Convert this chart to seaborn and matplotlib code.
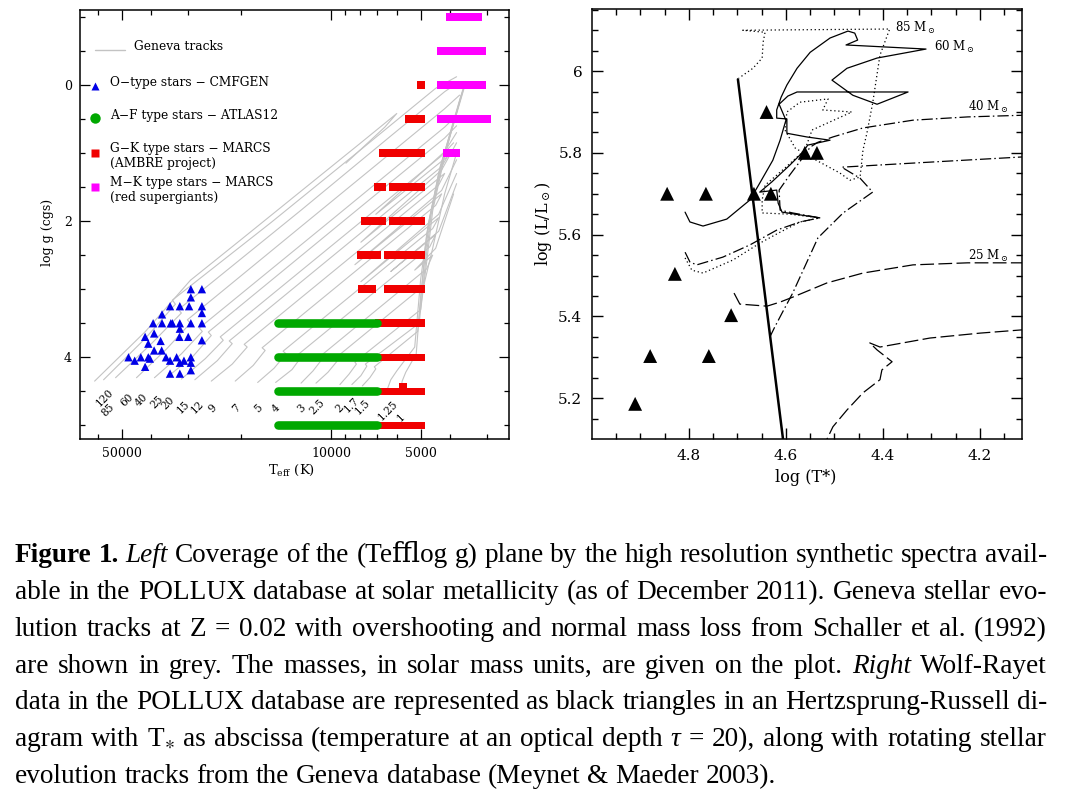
import numpy as np
import matplotlib
matplotlib.use("Agg")
import matplotlib.pyplot as plt
import seaborn as sns

# ======================= LEFT PANEL DATA =======================
# Geneva evolutionary tracks (log Teff, log g) vertices
track_masses = ["120", "85", "60", "40", "25", "20", "15", "12", "9", "7", "5", "4",
                "3", "2.5", "2", "1.7", "1.5", "1.25", "1"]
track_logT = [
    [4.79, 4.62, 4.47, 4.30, 4.10, 3.90, 3.78, 3.82, 3.95],
    [4.76, 4.62, 4.52, 4.53, 4.20, 3.90, 3.65, 3.58],
    [4.72, 4.60, 4.50, 4.51, 4.10, 3.80, 3.62, 3.57],
    [4.65, 4.55, 4.47, 4.48, 4.10, 3.80, 3.62, 3.57],
    [4.59, 4.50, 4.43, 4.44, 4.00, 3.62, 3.58],
    [4.55, 4.46, 4.40, 4.41, 3.95, 3.62, 3.58],
    [4.50, 4.42, 4.36, 4.37, 3.90, 3.63, 3.59],
    [4.455, 4.38, 4.33, 4.34, 3.63, 3.61, 3.85, 3.62, 3.58],
    [4.40, 4.33, 4.28, 4.29, 3.64, 3.62, 3.90, 3.63, 3.58],
    [4.32, 4.26, 4.22, 4.23, 3.65, 3.63, 3.92, 3.63, 3.58],
    [4.245, 4.19, 4.15, 4.16, 3.66, 3.64, 3.90, 3.64, 3.58],
    [4.185, 4.13, 4.10, 4.11, 3.67, 3.65, 3.80, 3.64, 3.58],
    [4.10, 4.06, 4.03, 4.04, 3.68, 3.66, 3.72, 3.65, 3.59],
    [4.05, 4.01, 3.98, 3.99, 3.69, 3.66, 3.62, 3.58],
    [3.97, 3.94, 3.915, 3.92, 3.70, 3.68, 3.66, 3.62, 3.58, 3.555],
    [3.93, 3.90, 3.88, 3.885, 3.705, 3.685, 3.665, 3.625, 3.58, 3.55],
    [3.895, 3.87, 3.85, 3.855, 3.71, 3.69, 3.67, 3.63, 3.585, 3.555],
    [3.81, 3.80, 3.78, 3.72, 3.70, 3.675, 3.635, 3.59, 3.56],
    [3.765, 3.762, 3.75, 3.715, 3.70, 3.68, 3.64, 3.595, 3.565],
]
track_logg = [
    [4.35, 3.62, 2.87, 2.27, 1.56, 0.85, 0.42, 0.62, 1.15],
    [4.33, 3.72, 3.22, 3.16, 2.02, 0.95, 0.05, -0.12],
    [4.30, 3.80, 3.35, 3.30, 1.84, 0.75, 0.10, -0.05],
    [4.30, 3.88, 3.50, 3.45, 2.08, 1.00, 0.35, 0.15],
    [4.30, 3.95, 3.62, 3.57, 1.99, 0.62, 0.45],
    [4.30, 3.98, 3.68, 3.63, 1.97, 0.78, 0.60],
    [4.32, 4.02, 3.75, 3.70, 2.01, 1.04, 0.85],
    [4.33, 4.05, 3.80, 3.76, 1.20, 1.05, 1.90, 0.98, 0.70],
    [4.35, 4.10, 3.85, 3.81, 1.47, 1.30, 2.31, 1.25, 0.85],
    [4.35, 4.12, 3.90, 3.86, 1.77, 1.60, 2.64, 1.55, 1.10],
    [4.37, 4.16, 3.95, 3.91, 2.11, 1.95, 2.89, 1.90, 1.30],
    [4.37, 4.18, 4.00, 3.96, 2.38, 2.20, 2.74, 2.15, 1.45],
    [4.38, 4.20, 4.03, 4.00, 2.70, 2.50, 2.72, 2.40, 1.60],
    [4.38, 4.22, 4.06, 4.03, 2.95, 2.40, 1.60, 1.00],
    [4.40, 4.25, 4.10, 4.07, 3.30, 2.60, 1.85, 1.05, 0.40, 0.00],
    [4.40, 4.27, 4.13, 4.10, 3.50, 2.65, 1.90, 1.10, 0.40, -0.05],
    [4.42, 4.30, 4.17, 4.14, 3.62, 2.70, 1.95, 1.15, 0.50, 0.05],
    [4.45, 4.33, 4.20, 3.85, 2.85, 2.05, 1.20, 0.55, 0.10],
    [4.45, 4.35, 4.22, 3.95, 3.10, 2.20, 1.30, 0.60, 0.15],
]
mass_label_teff = [57000, 55700, 48100, 42870, 38200, 35100, 31260, 28070, 24810, 20780,
                   17540, 15280, 12500, 11140, 9330, 8510, 7820, 6450, 5830]
mass_label_logg = [4.59, 4.78, 4.63, 4.63, 4.66, 4.68, 4.73, 4.73, 4.75, 4.75,
                   4.75, 4.75, 4.75, 4.73, 4.75, 4.70, 4.73, 4.78, 4.88]

# O-type stars (CMFGEN)
o_teff = [29400, 27000, 29400, 34500, 32000, 29800, 27000, 27000, 36700,
          39300, 36700, 34300, 33900, 32000, 29400, 27000, 32000, 39000,
          41800, 32100, 30000, 27000, 37100, 40800, 39000, 36800,
          47500, 43200, 40800, 40300, 35600, 32800, 29400,
          45300, 34500, 31000, 32000, 29400, 41800, 29400, 34500, 32000]
o_logg = [3.00, 3.00, 3.12, 3.25, 3.25, 3.25, 3.25, 3.35, 3.37,
          3.50, 3.50, 3.50, 3.50, 3.50, 3.50, 3.50, 3.58, 3.65,
          3.70, 3.70, 3.70, 3.75, 3.76, 3.80, 3.90, 3.90,
          4.00, 4.00, 4.00, 4.02, 4.00, 4.00, 4.00,
          4.05, 4.05, 4.05, 4.08, 4.08, 4.14, 4.19, 4.24, 4.24]

# A-F type stars (ATLAS12): continuous coverage rows
af_logg = [3.5, 4.0, 4.5, 5.0]
af_teff_hot = [15000, 15000, 15000, 15000]
af_teff_cool = [7000, 7000, 7000, 7000]

# G-K type stars (MARCS / AMBRE): coverage segments
gk_logg = [0.0, 0.5, 1.0, 1.5, 1.5, 2.0, 2.0, 2.5, 2.5, 3.0, 3.0,
           3.5, 4.0, 4.5, 5.0, 4.43]
gk_teff_hot = [5158, 5655, 6910, 7180, 6400, 7940, 6400, 8190, 6650, 8125, 6650,
               7100, 7100, 7100, 7100, 5930]
gk_teff_cool = [4850, 4850, 4850, 6550, 4850, 6550, 4850, 6810, 4850, 7070, 4850,
                4850, 4850, 4850, 4850, 5575]

# M-K type stars (MARCS red supergiants)
mk_logg = [-1.0, -0.5, 0.0, 0.5, 1.0]
mk_teff_hot = [4120, 4416, 4416, 4416, 4218]
mk_teff_cool = [3125, 3034, 3034, 2918, 3705]

# ======================= RIGHT PANEL DATA =======================
wr_logT = [4.911, 4.880, 4.759, 4.713, 4.829, 4.845, 4.765, 4.666, 4.631, 4.640, 4.561, 4.536]
wr_logL = [5.186, 5.303, 5.303, 5.403, 5.504, 5.700, 5.700, 5.700, 5.700, 5.900, 5.800, 5.800]

limit_logT = [4.699, 4.606]
limit_logL = [5.98, 5.10]

t60_logT = [4.808, 4.798, 4.771, 4.722, 4.674, 4.654, 4.627, 4.612, 4.600, 4.614, 4.596,
            4.577, 4.348, 4.412, 4.462, 4.505, 4.474, 4.412, 4.311, 4.476, 4.452, 4.458,
            4.472, 4.509, 4.550, 4.577, 4.598, 4.610, 4.619, 4.619, 4.598, 4.598, 4.557,
            4.509, 4.555, 4.565, 4.592, 4.629, 4.654, 4.619, 4.616, 4.608, 4.530]
t60_logL = [5.655, 5.631, 5.621, 5.638, 5.685, 5.726, 5.782, 5.831, 5.880, 5.919, 5.939,
            5.949, 5.949, 5.919, 5.941, 5.978, 6.007, 6.032, 6.054, 6.064, 6.076, 6.093,
            6.098, 6.081, 6.046, 6.007, 5.966, 5.936, 5.905, 5.885, 5.883, 5.848, 5.839,
            5.831, 5.819, 5.802, 5.770, 5.729, 5.704, 5.709, 5.677, 5.655, 5.641]

t85_logT = [4.808, 4.794, 4.771, 4.709, 4.654, 4.612, 4.571, 4.530, 4.592, 4.649, 4.649,
            4.643, 4.602, 4.561, 4.546, 4.464, 4.524, 4.513, 4.571, 4.598, 4.602, 4.581,
            4.550, 4.489, 4.468, 4.447, 4.441, 4.433, 4.421, 4.406, 4.386, 4.689, 4.643,
            4.647, 4.649, 4.668, 4.697]
t85_logL = [5.543, 5.513, 5.506, 5.538, 5.579, 5.606, 5.631, 5.641, 5.650, 5.653, 5.685,
            5.721, 5.763, 5.807, 5.856, 5.900, 5.905, 5.932, 5.924, 5.900, 5.856, 5.812,
            5.790, 5.751, 5.733, 5.741, 5.807, 5.848, 5.922, 6.039, 6.103, 6.100, 6.095,
            6.071, 6.032, 6.007, 5.983]

t40_logT = [4.808, 4.798, 4.784, 4.730, 4.674, 4.619, 4.571, 4.530, 4.586, 4.612, 4.614,
            4.592, 4.561, 4.550, 4.534, 4.503, 4.441, 4.338, 4.225, 4.113, 4.076, 4.076,
            4.113, 4.338, 4.441, 4.485, 4.447, 4.421, 4.482, 4.534, 4.586, 4.608, 4.623,
            4.635]
t40_logL = [5.557, 5.533, 5.526, 5.545, 5.575, 5.611, 5.631, 5.641, 5.653, 5.660, 5.709,
            5.746, 5.795, 5.814, 5.826, 5.839, 5.861, 5.880, 5.888, 5.892, 5.892, 5.790,
            5.790, 5.775, 5.768, 5.765, 5.738, 5.704, 5.653, 5.592, 5.457, 5.408, 5.374,
            5.345]

t25_logT = [4.707, 4.695, 4.639, 4.612, 4.586, 4.515, 4.441, 4.338, 4.225, 4.113, 4.076,
            4.076, 4.113, 4.200, 4.303, 4.406, 4.427, 4.412, 4.381, 4.402, 4.406, 4.441,
            4.474, 4.503, 4.518]
t25_logL = [5.457, 5.430, 5.425, 5.435, 5.447, 5.482, 5.506, 5.526, 5.531, 5.531, 5.531,
            5.369, 5.367, 5.359, 5.347, 5.325, 5.335, 5.318, 5.289, 5.269, 5.245, 5.213,
            5.171, 5.130, 5.093]

track_label_text = ["85 M$_\\odot$", "60 M$_\\odot$", "40 M$_\\odot$", "25 M$_\\odot$"]
track_label_logT = [4.375, 4.295, 4.225, 4.225]
track_label_logL = [6.105, 6.059, 5.912, 5.548]

# ======================= CAPTION =======================
caption_lines = [
    "**Figure** **1.** _Left_ Coverage of the (Te\ufb04og g) plane by the high resolution synthetic spectra avail-",
    "able in the POLLUX database at solar metallicity (as of December 2011). Geneva stellar evo-",
    "lution tracks at Z = 0.02 with overshooting and normal mass loss from Schaller et al. (1992)",
    "are shown in grey. The masses, in solar mass units, are given on the plot. _Right_ Wolf-Rayet",
    "data in the POLLUX database are represented as black triangles in an Hertzsprung-Russell di-",
    "agram with T$_{\\ast}$ as abscissa (temperature at an optical depth _\u03c4_ = 20), along with rotating stellar",
    "evolution tracks from the Geneva database (Meynet & Maeder 2003).",
]

# ======================= STYLE =======================
sns.set_theme(style="ticks")
plt.rcParams.update({
    "font.family": ["DejaVu Serif"],
    "mathtext.fontset": "dejavuserif",
    "axes.edgecolor": "black",
    "axes.linewidth": 1.1,
    "xtick.color": "black",
    "ytick.color": "black",
    "text.color": "black",
    "axes.labelcolor": "black",
    "axes.facecolor": "white",
    "figure.facecolor": "white",
})

W, H = 1081, 795
fig = plt.figure(figsize=(W / 100, H / 100), dpi=100)
axL = fig.add_axes([80 / W, 1 - 439 / H, 429 / W, 429 / H])
axR = fig.add_axes([592 / W, 1 - 439 / H, 430 / W, 430 / H])

# ----------------------- left panel -----------------------
grey = "#c3c3c3"
for lt, lg in zip(track_logT, track_logg):
    axL.plot(10 ** np.array(lt), lg, color=grey, lw=0.8, zorder=1)

for lg, th, tc in zip(gk_logg, gk_teff_hot, gk_teff_cool):
    axL.barh(lg, th - tc, left=tc, height=0.11, color="#f00000", lw=0, zorder=2)
for lg, th, tc in zip(mk_logg, mk_teff_hot, mk_teff_cool):
    axL.barh(lg, th - tc, left=tc, height=0.115, color="#ff00ff", lw=0, zorder=2)
for lg, th, tc in zip(af_logg, af_teff_hot, af_teff_cool):
    axL.plot([th, tc], [lg, lg], color="#00a800", lw=6.2, solid_capstyle="round", zorder=3)

sns.scatterplot(x=o_teff, y=o_logg, ax=axL, marker="^", s=36, color="#0000e6",
                edgecolor="none", linewidth=0, legend=False, zorder=4)

axL.set_xscale("log")
axL.set_xlim(69000, 2540)
axL.set_ylim(5.2, -1.1)
axL.set_xticks([50000, 10000, 5000])
axL.set_xticklabels(["50000", "10000", "5000"])
axL.set_xticks([60000, 40000, 30000, 20000, 9000, 8000, 7000, 6000, 4000, 3000], minor=True)
axL.xaxis.set_minor_formatter(matplotlib.ticker.NullFormatter())
axL.set_yticks([0, 2, 4])
axL.set_yticklabels(["0", "2", "4"])
axL.set_yticks(np.arange(-1.0, 5.01, 0.5), minor=True)
axL.tick_params(which="both", direction="in", top=True, right=True, labelsize=9, width=0.9)
axL.tick_params(which="major", length=7, pad=6)
axL.tick_params(which="minor", length=3.5)
axL.set_xlabel("")
axL.set_ylabel("")
fig.text(48 / W, 1 - 232 / H, "log g (cgs)", rotation=90, ha="center", va="center", fontsize=9)
fig.text(292 / W, 1 - 470 / H, "T$_{\\rm eff}$ (K)", ha="center", va="center", fontsize=9.5)

for txt, t, g in zip(track_masses, mass_label_teff, mass_label_logg):
    axL.text(t, g, txt, rotation=45, ha="center", va="center", fontsize=7.6, zorder=5)

# manual legend
tr = axL.transAxes
axL.plot([0.035, 0.105], [0.907, 0.907], color=grey, lw=1.0, transform=tr)
axL.text(0.126, 0.914, "Geneva tracks", transform=tr, va="center", fontsize=8.8)
axL.plot([0.035], [0.823], marker="^", ms=5.5, color="#0000e6", mec="none", transform=tr, ls="none")
axL.text(0.070, 0.832, "O\u2212type stars \u2212 CMFGEN", transform=tr, va="center", fontsize=8.8)
axL.plot([0.035], [0.748], marker="o", ms=7.5, color="#00a800", mec="none", transform=tr, ls="none")
axL.text(0.070, 0.755, "A\u2212F type stars \u2212 ATLAS12", transform=tr, va="center", fontsize=8.8)
axL.plot([0.035], [0.667], marker="s", ms=5.8, color="#f00000", mec="none", transform=tr, ls="none")
axL.text(0.070, 0.676, "G\u2212K type stars \u2212 MARCS", transform=tr, va="center", fontsize=8.8)
axL.text(0.070, 0.643, "(AMBRE project)", transform=tr, va="center", fontsize=8.8)
axL.plot([0.035], [0.587], marker="s", ms=5.8, color="#ff00ff", mec="none", transform=tr, ls="none")
axL.text(0.070, 0.597, "M\u2212K type stars \u2212 MARCS", transform=tr, va="center", fontsize=8.8)
axL.text(0.070, 0.564, "(red supergiants)", transform=tr, va="center", fontsize=8.8)

# ----------------------- right panel -----------------------
lw_t = 0.9
axR.plot(t60_logT, t60_logL, color="black", lw=lw_t, zorder=2)
axR.plot(t85_logT, t85_logL, color="black", lw=lw_t, ls=(0, (1.0, 2.2)), zorder=2)
axR.plot(t40_logT, t40_logL, color="black", lw=lw_t, ls=(0, (9, 2.5, 1.2, 2.5)), zorder=2)
axR.plot(t25_logT, t25_logL, color="black", lw=lw_t, ls=(0, (11, 3.5)), zorder=2)
sns.lineplot(x=limit_logT, y=limit_logL, ax=axR, color="black", lw=1.8, sort=False,
             estimator=None, legend=False, zorder=3)
sns.scatterplot(x=wr_logT, y=wr_logL, ax=axR, marker="^", s=100, color="black",
                edgecolor="none", linewidth=0, legend=False, zorder=4)

for txt, t, l in zip(track_label_text, track_label_logT, track_label_logL):
    axR.text(t, l, txt, ha="left", va="center", fontsize=8.5, zorder=5)

axR.set_xlim(5.0, 4.113)
axR.set_ylim(5.1, 6.152)
axR.set_xticks([4.8, 4.6, 4.4, 4.2])
axR.set_xticklabels(["4.8", "4.6", "4.4", "4.2"])
axR.set_xticks(np.arange(4.15, 5.0, 0.05), minor=True)
axR.set_yticks([5.2, 5.4, 5.6, 5.8, 6.0])
axR.set_yticklabels(["5.2", "5.4", "5.6", "5.8", "6"])
axR.set_yticks(np.arange(5.15, 6.151, 0.05), minor=True)
axR.tick_params(which="both", direction="in", top=True, right=True, labelsize=11, width=1.0)
axR.tick_params(which="major", length=8, pad=7)
axR.tick_params(which="minor", length=4.3)
axR.set_xlabel("")
axR.set_ylabel("")
fig.text(806 / W, 1 - 478 / H, "log (T*)", ha="center", va="center", fontsize=11.5)
fig.text(543 / W, 1 - 224 / H, "log (L/L$_\\odot$)", rotation=90, ha="center", va="center",
         fontsize=11.5)

# ----------------------- caption (justified) -----------------------
cap_family = ["Liberation Serif", "DejaVu Serif"]
cap_size = 19.6
x_left, x_right = 15, 1047
baselines = [562, 599, 636, 673, 709, 746, 783]
renderer = fig.canvas.get_renderer()
space_w = 0.25 * cap_size * 100 / 72
for i, line in enumerate(caption_lines):
    objs = []
    for tok in line.split(" "):
        weight, style, s = "normal", "normal", tok
        if tok.startswith("**"):
            weight, s = "bold", tok.strip("*")
        elif tok.startswith("_") and tok.endswith("_") and len(tok) > 2:
            style, s = "italic", tok[1:-1]
        t = fig.text(0, 1 - baselines[i] / H, s, fontsize=cap_size, family=cap_family,
                     weight=weight, style=style, ha="left", va="baseline",
                     math_fontfamily="stix")
        objs.append(t)
    widths = [t.get_window_extent(renderer).width for t in objs]
    if i < len(caption_lines) - 1:
        gap = (x_right - x_left - sum(widths)) / (len(objs) - 1)
    else:
        gap = space_w
    x = x_left
    for t, w in zip(objs, widths):
        t.set_x(x / W)
        x += w + gap

fig.savefig("out.png", dpi=100)
